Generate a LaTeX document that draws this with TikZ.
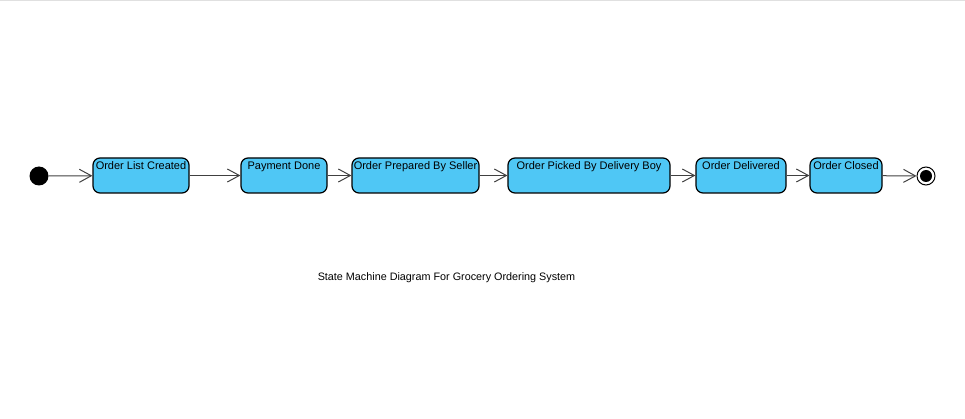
\documentclass[tikz,border=0pt]{standalone}
\usepackage{fontspec}
\setmainfont{Liberation Sans}
\usetikzlibrary{arrows.meta}
\definecolor{statefill}{RGB}{79,199,245}
\tikzset{
  state/.style={draw=black, line width=1.2pt, fill=statefill, rounded corners=7pt,
    minimum height=35pt, text height=11pt, text depth=22pt, inner ysep=1pt, inner xsep=1pt,
    font=\fontsize{11}{13}\selectfont},
  trans/.style={draw=black!75, line width=1pt, -{Straight Barb[length=12pt,width=13pt]}}
}
\begin{document}
\begin{tikzpicture}[x=1pt,y=-1pt]
\useasboundingbox (0,0) rectangle (965,419);
\draw [black!12] (0,0.5) -- (965,0.5);

% states
\node [circle, fill=black, minimum size=19pt, inner sep=0pt] (init) at (39,176) {};
\node [state, minimum width=96pt]  (created)   at (141,175.5) {Order List Created};
\node [state, minimum width=86pt]  (paid)      at (284,175.5) {Payment Done};
\node [state, minimum width=127pt] (prepared)  at (415.5,175.5) {Order Prepared By Seller};
\node [state, minimum width=162pt] (picked)    at (589,175.5) {Order Picked By Delivery Boy};
\node [state, minimum width=90pt]  (delivered) at (741,175.5) {Order Delivered};
\node [state, minimum width=72pt]  (closed)    at (846,175.5) {Order Closed};
\node [circle, draw=black, fill=white, line width=1pt, minimum size=18pt, inner sep=0pt] (final) at (926,176) {};
\node [circle, fill=black, minimum size=12pt, inner sep=0pt] (finaldot) at (final) {};

% transitions
\foreach \a/\b in {init/created, created/paid, paid/prepared, prepared/picked,
                   picked/delivered, delivered/closed, closed/final}
{\draw [trans] (\a) -- (\b);}

\node [font=\fontsize{10.8}{13}\selectfont] (title) at (446.5,277.5) {State Machine Diagram For Grocery Ordering System};
\end{tikzpicture}
\end{document}
